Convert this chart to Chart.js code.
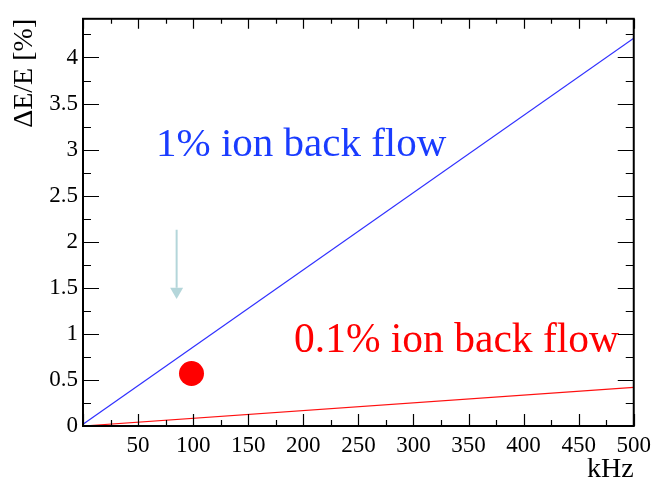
<!DOCTYPE html>
<html>
<head>
<meta charset="utf-8">
<script src="https://cdn.jsdelivr.net/npm/chart.js@4.4.1/dist/chart.umd.min.js"></script>
<style>
  html, body { margin: 0; padding: 0; background: #fff; }
  canvas { display: block; }
</style>
</head>
<body>
<canvas id="ibfChart" width="657" height="478"></canvas>
<script>
// rate (kHz) vs energy resolution degradation (%)
const rateKHz = [0, 500];
const ibf1pct = [0.02, 4.21];
const ibf01pct = [0, 0.42];
const pointKHz = [98.5];
const pointDE = [0.57];
const arrowKHz = [85, 85];
const arrowDE = [2.13, 1.5];
const arrowHeadDE = [1.46];
const xTickStep = 50;
const yTickStep = 0.5;

const serif = "'Liberation Serif', 'Times New Roman', serif";

function toPoints(xs, ys) {
    return xs.map((x, i) => ({ x: x, y: ys[i] }));
}

// ROOT style frame with ticks pointing inward
const frameTicks = {
    id: 'frameTicks',
    afterDraw(chart) {
        const ctx = chart.ctx;
        const a = chart.chartArea;
        const xs = chart.scales.x;
        const ys = chart.scales.y;
        ctx.save();
        ctx.strokeStyle = '#000';
        ctx.lineWidth = 1.2;
        ctx.beginPath();
        for (let v = 0; v <= xs.max + 1e-6; v += xTickStep / 2) {
            const px = Math.round(xs.getPixelForValue(v)) + 0.5;
            const major = Math.abs(v / xTickStep - Math.round(v / xTickStep)) < 1e-6;
            const lb = major ? 12 : 6;
            const lt = major ? 10 : 5;
            ctx.moveTo(px, a.bottom); ctx.lineTo(px, a.bottom - lb);
            ctx.moveTo(px, a.top); ctx.lineTo(px, a.top + lt);
        }
        for (let v = 0; v <= ys.max + 1e-6; v += yTickStep / 2) {
            const py = Math.round(ys.getPixelForValue(v)) + 0.5;
            const major = Math.abs(v / yTickStep - Math.round(v / yTickStep)) < 1e-6;
            const l = major ? 16 : 8;
            ctx.moveTo(a.left, py); ctx.lineTo(a.left + l, py);
            ctx.moveTo(a.right, py); ctx.lineTo(a.right - l, py);
        }
        ctx.stroke();
        ctx.lineWidth = 2;
        ctx.strokeRect(a.left, a.top, a.right - a.left, a.bottom - a.top);
        ctx.restore();
    },
    afterDatasetsDraw(chart) {
        const ctx = chart.ctx;
        ctx.save();
        ctx.textAlign = 'left';
        ctx.textBaseline = 'alphabetic';
        ctx.font = '41px ' + serif;
        ctx.fillStyle = '#1a3cff';
        ctx.fillText('1% ion back flow', 156, 156);
        ctx.font = '41.5px ' + serif;
        ctx.fillStyle = '#ff0000';
        ctx.fillText('0.1% ion back flow', 294, 352);
        ctx.restore();
    }
};

new Chart(document.getElementById('ibfChart'), {
    type: 'scatter',
    data: {
        datasets: [
            {
                label: '1% ion back flow',
                data: toPoints(rateKHz, ibf1pct),
                showLine: true,
                borderColor: '#3030ff',
                borderWidth: 1.2,
                pointRadius: 0
            },
            {
                label: '0.1% ion back flow',
                data: toPoints(rateKHz, ibf01pct),
                showLine: true,
                borderColor: '#ff1010',
                borderWidth: 1.2,
                pointRadius: 0
            },
            {
                label: 'arrow',
                data: toPoints(arrowKHz, arrowDE),
                showLine: true,
                borderColor: '#b4d6da',
                borderWidth: 2,
                pointRadius: 0
            },
            {
                label: 'arrow head',
                data: toPoints([arrowKHz[1]], arrowHeadDE),
                pointStyle: 'triangle',
                rotation: 180,
                pointRadius: 7.5,
                backgroundColor: '#b4d6da',
                borderColor: '#b4d6da',
                borderWidth: 0
            },
            {
                label: 'measured',
                data: toPoints(pointKHz, pointDE),
                pointStyle: 'circle',
                pointRadius: 12.5,
                backgroundColor: '#ff0000',
                borderColor: '#ff0000',
                borderWidth: 0
            }
        ]
    },
    options: {
        responsive: false,
        animation: false,
        devicePixelRatio: 1,
        layout: { padding: { left: 0, top: 13, right: 19, bottom: 0 } },
        plugins: {
            legend: { display: false },
            tooltip: { enabled: false }
        },
        scales: {
            x: {
                type: 'linear',
                min: 0,
                max: 500,
                afterFit: (s) => { s.height = 52; },
                grid: { display: false, drawTicks: false },
                border: { display: false },
                ticks: {
                    stepSize: xTickStep,
                    includeBounds: false,
                    padding: 6,
                    color: '#000',
                    font: { family: serif, size: 23 },
                    callback: (v) => v === 0 ? '' : String(v)
                },
                title: {
                    display: true,
                    text: 'kHz',
                    align: 'end',
                    color: '#000',
                    font: { family: serif, size: 28, lineHeight: 0.6 },
                    padding: 0
                }
            },
            y: {
                type: 'linear',
                min: 0,
                max: 4.42,
                afterFit: (s) => { s.width = 83; },
                grid: { display: false, drawTicks: false },
                border: { display: false },
                ticks: {
                    stepSize: yTickStep,
                    includeBounds: false,
                    padding: 5,
                    color: '#000',
                    font: { family: serif, size: 23 },
                    callback: (v) => String(Math.round(v * 100) / 100)
                },
                title: {
                    display: true,
                    text: 'ΔE/E [%]',
                    align: 'end',
                    color: '#000',
                    font: { family: serif, size: 28 },
                    padding: { top: 8, bottom: 0 }
                }
            }
        }
    },
    plugins: [frameTicks]
});
</script>
</body>
</html>
